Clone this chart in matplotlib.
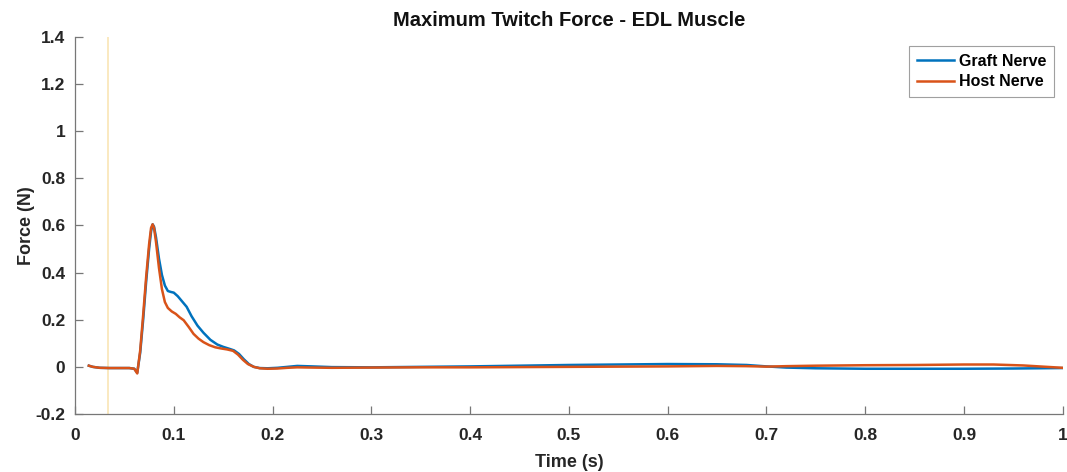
import numpy as np
import matplotlib.pyplot as plt

plt.rcParams['font.family'] = ['Liberation Sans', 'DejaVu Sans']
plt.rcParams['font.weight'] = 'bold'

# twitch traces (time in s, force in N)
t_graft = [0.014, 0.018, 0.025, 0.035, 0.045, 0.055, 0.060, 0.063, 0.066, 0.069,
           0.072, 0.075, 0.077, 0.0786, 0.080, 0.082, 0.085, 0.088, 0.091, 0.094,
           0.097, 0.100, 0.104, 0.108, 0.113, 0.118, 0.124, 0.130, 0.137, 0.144,
           0.150, 0.156, 0.161, 0.166, 0.171, 0.176, 0.181, 0.187, 0.195, 0.205,
           0.215, 0.225, 0.24, 0.26, 0.30, 0.35, 0.40, 0.45, 0.50, 0.55, 0.60,
           0.65, 0.68, 0.70, 0.72, 0.75, 0.80, 0.85, 0.90, 0.95, 1.00]
f_graft = [0.005, 0.000, -0.004, -0.005, -0.005, -0.005, -0.008, -0.025, 0.06, 0.20,
           0.36, 0.50, 0.575, 0.605, 0.595, 0.55, 0.46, 0.39, 0.345, 0.322,
           0.318, 0.315, 0.30, 0.28, 0.255, 0.215, 0.175, 0.145, 0.115, 0.095,
           0.085, 0.077, 0.070, 0.055, 0.032, 0.012, 0.000, -0.005, -0.006, -0.004,
           0.000, 0.004, 0.002, -0.001, -0.002, 0.000, 0.002, 0.005, 0.008, 0.010, 0.012,
           0.011, 0.008, 0.002, -0.003, -0.006, -0.008, -0.008, -0.008, -0.007, -0.005]

t_host = [0.014, 0.018, 0.025, 0.035, 0.045, 0.055, 0.060, 0.063, 0.066, 0.069,
          0.072, 0.075, 0.077, 0.0786, 0.080, 0.082, 0.085, 0.088, 0.091, 0.094,
          0.098, 0.102, 0.106, 0.110, 0.115, 0.120, 0.125, 0.130, 0.136, 0.142,
          0.148, 0.154, 0.160, 0.165, 0.170, 0.175, 0.181, 0.187, 0.195, 0.205,
          0.215, 0.225, 0.24, 0.26, 0.30, 0.35, 0.40, 0.45, 0.50, 0.55, 0.60,
          0.65, 0.68, 0.70, 0.72, 0.75, 0.80, 0.85, 0.90, 0.93, 0.96, 1.00]
f_host = [0.005, 0.000, -0.004, -0.005, -0.005, -0.005, -0.008, -0.028, 0.07, 0.22,
          0.38, 0.52, 0.59, 0.605, 0.59, 0.53, 0.42, 0.33, 0.275, 0.25,
          0.235, 0.225, 0.21, 0.198, 0.17, 0.14, 0.12, 0.105, 0.092, 0.083,
          0.078, 0.074, 0.068, 0.052, 0.030, 0.012, 0.000, -0.006, -0.008, -0.007,
          -0.004, -0.002, -0.003, -0.004, -0.003, -0.002, -0.002, -0.001, 0.000, 0.001, 0.002,
          0.004, 0.003, 0.001, 0.003, 0.005, 0.007, 0.008, 0.010, 0.010, 0.006, -0.004]

stim_time = 0.033

fig = plt.figure(figsize=(10.67, 4.72), dpi=100)
ax = fig.add_axes([0.0703, 0.1229, 0.9257, 0.7987])

ax.axvline(stim_time, color='#EDB120', alpha=0.3, lw=1.3)
ax.plot(t_graft, f_graft, color='#0072BD', lw=1.8, label='Graft Nerve')
ax.plot(t_host, f_host, color='#D95319', lw=1.8, label='Host Nerve')

ax.set_xlim(0, 1)
ax.set_ylim(-0.2, 1.4)
ax.set_xticks(np.arange(0, 1.01, 0.1))
ax.set_xticklabels(['0', '0.1', '0.2', '0.3', '0.4', '0.5', '0.6', '0.7', '0.8', '0.9', '1'])
ax.set_yticks(np.arange(-0.2, 1.41, 0.2))
ax.set_yticklabels(['-0.2', '0', '0.2', '0.4', '0.6', '0.8', '1', '1.2', '1.4'])

for side in ['top', 'right']:
    ax.spines[side].set_visible(False)
for side in ['left', 'bottom']:
    ax.spines[side].set_color('#777777')
    ax.spines[side].set_linewidth(0.9)
ax.tick_params(direction='in', length=6, width=0.9, color='#777777',
               labelsize=12.5, labelcolor='#262626')
ax.tick_params(axis='x', pad=10)
ax.tick_params(axis='y', pad=7)

ax.set_xlabel('Time (s)', fontsize=13, fontweight='bold', color='#262626', labelpad=8)
ax.set_ylabel('Force (N)', fontsize=13, fontweight='bold', color='#262626', labelpad=0)
ax.set_title('Maximum Twitch Force - EDL Muscle', fontsize=14.5, fontweight='bold',
             color='#111111', pad=8)

leg = ax.legend(loc='upper right', bbox_to_anchor=(0.9945, 0.985), fontsize=11.5,
                frameon=True, fancybox=False, handlelength=2.3, handletextpad=0.3,
                borderpad=0.5, labelspacing=0.35, borderaxespad=0.2)
leg.get_frame().set_edgecolor('#888888')
leg.get_frame().set_linewidth(0.8)

fig.savefig('out.png', dpi=100)
